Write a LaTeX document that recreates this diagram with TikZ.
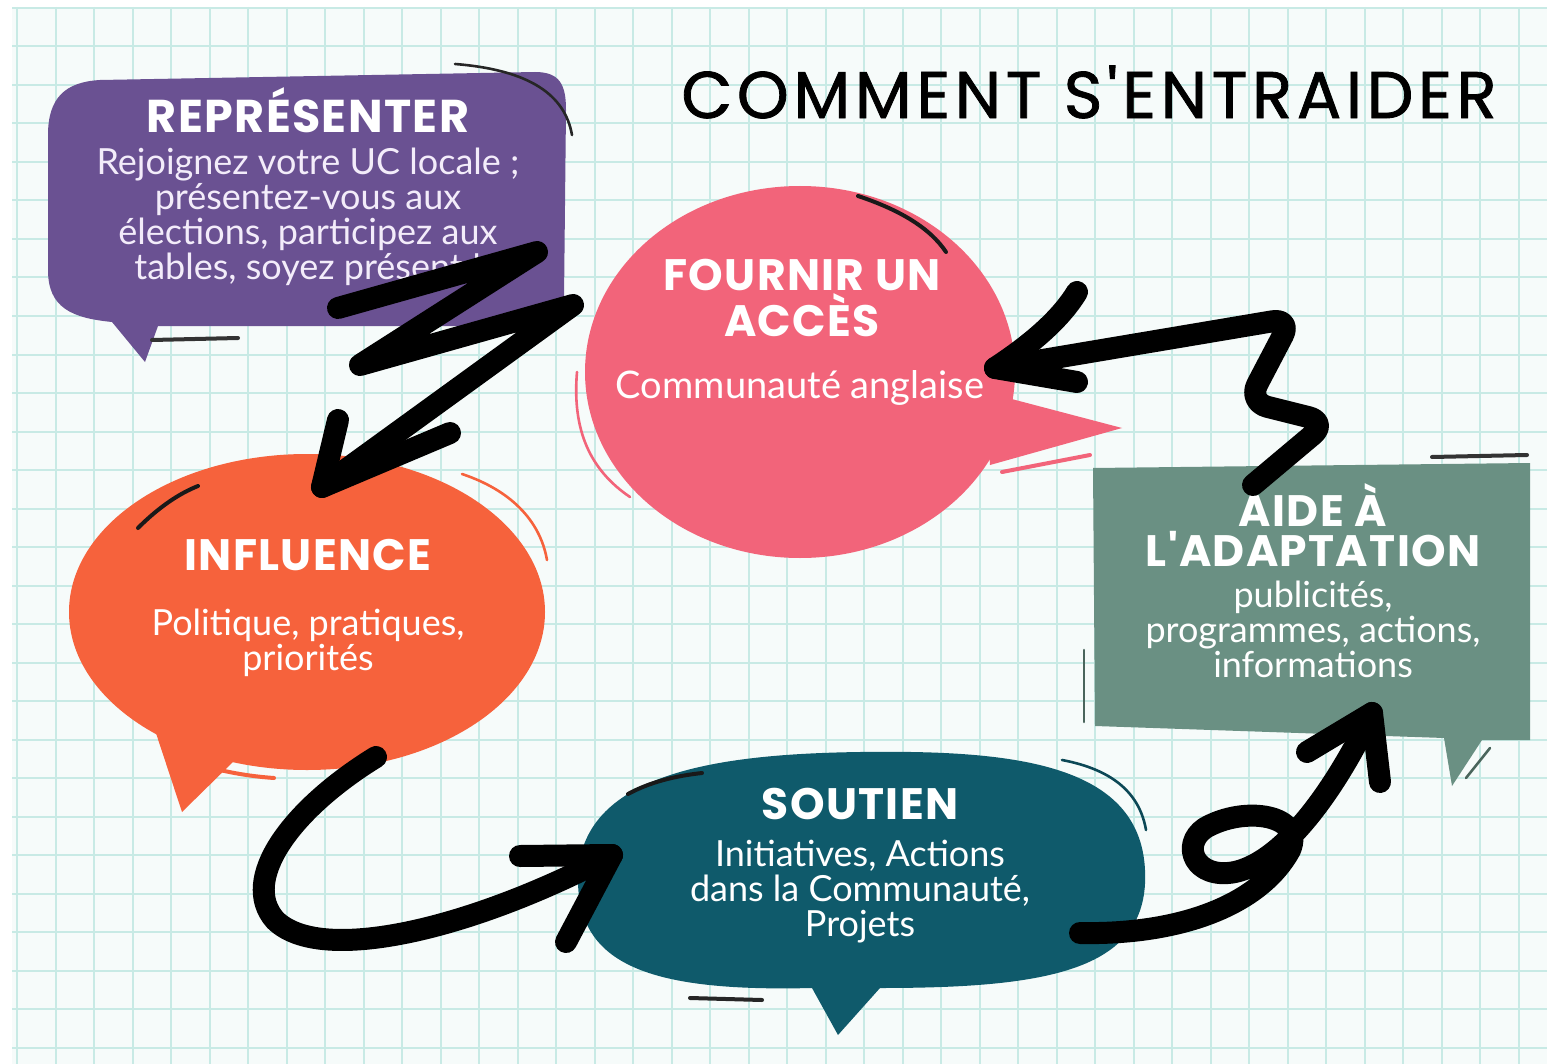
\documentclass[tikz,border=0pt]{standalone}
\usepackage{fontspec}
\setmainfont{Lato}
\newfontfamily\titlefont{Poppins}[LetterSpace=7, FakeBold=1.2]
\newfontfamily\boxfont{Poppins}[LetterSpace=3]
\definecolor{bgc}{HTML}{F6FBFA}
\definecolor{gridc}{HTML}{C8EAE5}
\definecolor{purp}{HTML}{6A5192}
\definecolor{pinkc}{HTML}{F2647A}
\definecolor{orng}{HTML}{F6623C}
\definecolor{tealc}{HTML}{0F5A6B}
\definecolor{sage}{HTML}{6A9083}
\definecolor{lav}{HTML}{F3ECFA}
\tikzset{
  brush/.style={line width=11pt, line cap=round, line join=round, draw=black},
  deco/.style={line width=1.3pt, line cap=round},
  ttl/.style={text=white, font=\boxfont\bfseries\fontsize{22}{20}\selectfont, align=center, inner sep=0pt},
  bodytxt/.style={text=white, font=\fontsize{18}{17.5}\selectfont, align=center, inner sep=0pt},
}
\begin{document}
\begin{tikzpicture}[x=0.5pt,y=-0.5pt]
\useasboundingbox (0,0) rectangle (1547,1064);
\fill[white] (0,0) rectangle (1547,1064);
\fill[bgc] (12,7) rectangle (1547,1064);
\foreach \x in {17,55.5,...,1547} \draw[gridc, line width=1pt] (\x,7) -- (\x,1064);
\foreach \y in {8,46.5,...,1064} \draw[gridc, line width=1pt] (12,\y) -- (1547,\y);

% title
\node[font=\titlefont\fontsize{33}{34}\selectfont, inner sep=0pt] (title) at (1089,92) {COMMENT S'ENTRAIDER};

% ---- purple bubble
\fill[purp] (100,80) -- (535,72) .. controls (560,72) and (566,85) .. (566,110) -- (564,300) .. controls (564,322) and (555,326) .. (535,326) -- (158,326) -- (145,362) -- (112,322) .. controls (72,318) and (48,308) .. (48,270) -- (48,135) .. controls (48,98) and (65,82) .. (100,80) -- cycle;
\draw[deco, black!85] (455,64) .. controls (530,70) and (565,95) .. (572,135);
\draw[deco, black!80, line width=2pt] (152,340) -- (238,338);
\node[ttl, font=\boxfont\bfseries\fontsize{23}{20}\selectfont] (rep) at (308,110) {REPRÉSENTER};
\node[bodytxt, text=lav] (repb) at (308,217) {Rejoignez votre UC locale ;\\présentez-vous aux\\élections, participez aux\\tables, soyez présent !};

% ---- pink bubble
\fill[pinkc] (800,372) ellipse[x radius=215, y radius=186];
\fill[pinkc] (985,392) -- (1122,428) -- (990,465) -- cycle;
\draw[deco, black!90, line width=2pt] (858,196) .. controls (900,210) and (930,228) .. (946,252);
\draw[deco, pinkc] (577,372) .. controls (572,430) and (590,470) .. (630,497);
\draw[deco, pinkc, line width=2pt] (1002,472) -- (1090,455);
\node[ttl] (acc) at (802,298) {FOURNIR UN\\ACCÈS};
\node[bodytxt, font=\fontsize{19}{17.5}\selectfont] (accb) at (800,388) {Communauté anglaise};

% ---- orange bubble
\fill[orng] (307,612) ellipse[x radius=238, y radius=158];
\fill[orng] (150,715) -- (182,812) -- (235,760) -- cycle;
\draw[deco, black!90, line width=2pt] (138,528) .. controls (158,508) and (178,494) .. (198,486);
\draw[deco, orng] (462,474) .. controls (510,490) and (540,520) .. (547,560);
\draw[deco, orng, line width=2pt] (176,756) .. controls (210,770) and (245,776) .. (274,778);
\node[ttl] (inf) at (308,555) {INFLUENCE};
\node[bodytxt] (infb) at (308,643) {Politique, pratiques,\\priorités};

% ---- teal bubble
\fill[tealc] (860,752) .. controls (1010,750) and (1140,762) .. (1145,870) .. controls (1150,970) and (1050,988) .. (880,988) -- (838,1035) -- (812,988) .. controls (650,992) and (578,965) .. (578,880) .. controls (578,772) and (720,754) .. (860,752) -- cycle;
\draw[deco, black!90, line width=2pt] (628,794) .. controls (650,782) and (675,776) .. (702,773);
\draw[deco, tealc!80!black] (1062,760) .. controls (1115,770) and (1140,795) .. (1146,830);
\draw[deco, black!85, line width=2pt] (690,998) -- (762,1000);
\node[ttl] (sou) at (860,804) {SOUTIEN};
\node[bodytxt] (soub) at (860,892) {Initiatives, Actions\\dans la Communauté,\\Projets};

% ---- sage box
\fill[sage] (1093,468) -- (1530,463) -- (1530,740) -- (1482,740) -- (1452,786) -- (1444,738) -- (1095,726) -- cycle;
\draw[deco, black!80, line width=2pt] (1432,457) -- (1527,455);
\draw[deco, sage!70!black] (1084,650) -- (1084,722);
\draw[deco, sage!70!black] (1466,778) -- (1490,748);
\node[ttl] (ada) at (1313,525) {AIDE À\\L'ADAPTATION};
\node[bodytxt] (adab) at (1313,629) {publicités,\\programmes, actions,\\informations};

% ---- connector end points
\coordinate (a1s) at (338,308);
\coordinate (a1e) at (322,487);
\coordinate (a2s) at (1253,485);
\coordinate (a2e) at (995,368);
\coordinate (a3s) at (376,757);
\coordinate (a3e) at (612,855);
\coordinate (a4s) at (1080,933);
\coordinate (a4e) at (1372,713);

% ---- arrows
\draw[brush] (a1s) -- (537,252) -- (360,365) -- (573,305) -- (a1e);
\draw[brush] (338,420) -- (a1e) -- (450,433);

\draw[brush, rounded corners=10pt] (a2s) -- (1328,422) -- (1248,402) -- (1292,318) -- (a2e);
\draw[brush] (1077,292) .. controls (1060,320) and (1030,345) .. (a2e) -- (1077,382);

\draw[brush] (a3s) .. controls (290,810) and (240,880) .. (275,920) .. controls (320,965) and (470,930) .. (a3e);
\draw[brush] (520,856) -- (a3e) -- (566,942);

\draw[brush] (a4s) .. controls (1180,935) and (1260,905) .. (1290,850) .. controls (1305,815) and (1245,805) .. (1205,828) .. controls (1180,845) and (1195,880) .. (1235,872) .. controls (1280,862) and (1330,800) .. (a4e);
\draw[brush] (1307,752) -- (a4e) -- (1380,782);
\end{tikzpicture}
\end{document}
